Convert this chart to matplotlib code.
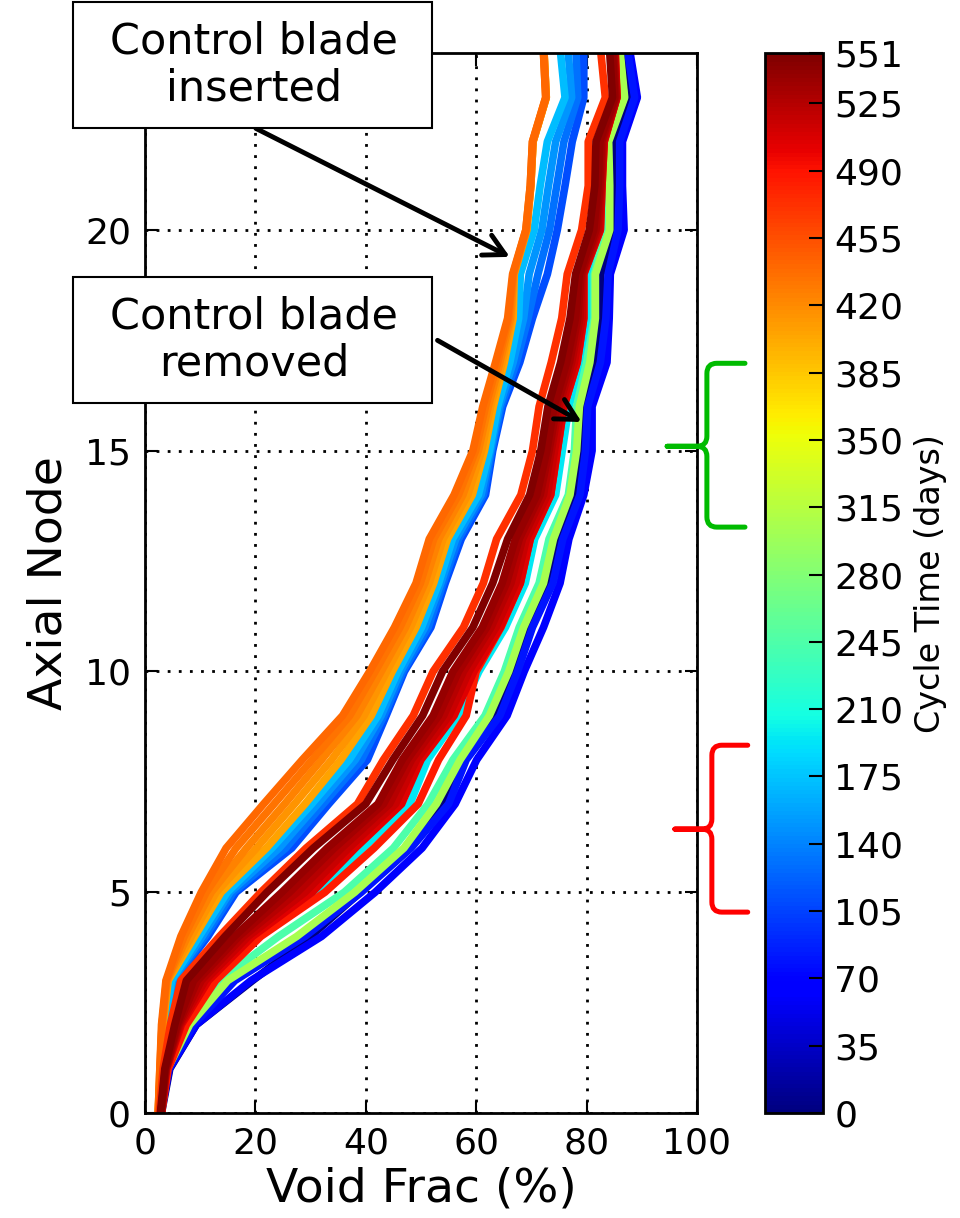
import numpy as np
import matplotlib
matplotlib.use('Agg')
import matplotlib.pyplot as plt
from matplotlib import cm, colors
from matplotlib.path import Path
from matplotlib.patches import PathPatch, Rectangle

# axial nodes 0..24
nodes = np.arange(25)

# void fraction profiles (%) per cycle time (days), node 0 -> 24
void_t000 = [3.0, 4.5, 9.3, 19.5, 30.0, 39.0, 48.0, 54.0, 57.8, 63.5, 66.8, 69.5, 73.3, 75.0, 77.8, 79.2, 79.6, 81.6, 82.5, 82.6, 85.0, 85.2, 85.0, 87.7, 86.8]
void_t062 = [2.9, 4.4, 9.3, 19.2, 32.0, 41.7, 50.2, 56.2, 60.1, 65.6, 68.7, 72.2, 75.2, 76.8, 79.5, 81.0, 81.0, 83.7, 84.1, 84.3, 86.8, 86.5, 86.5, 89.2, 87.9]
void_t080 = [2.8, 4.2, 8.8, 16.3, 29.0, 39.2, 48.2, 55.0, 58.2, 64.3, 67.5, 70.2, 73.9, 75.7, 78.8, 79.8, 80.2, 82.5, 83.5, 83.9, 85.7, 86.0, 86.0, 88.7, 87.5]
void_t110 = [2.7, 3.3, 3.9, 5.4, 11.4, 16.5, 26.6, 33.3, 40.3, 43.7, 47.0, 51.8, 54.4, 57.3, 61.7, 63.0, 64.8, 67.9, 70.2, 72.9, 74.7, 76.1, 77.4, 79.5, 79.5]
void_t130 = [2.6, 3.2, 3.8, 5.2, 10.9, 16.0, 25.5, 32.3, 39.2, 43.3, 46.7, 51.3, 54.0, 56.8, 61.3, 62.8, 64.5, 67.3, 69.4, 71.2, 73.3, 74.6, 75.9, 78.4, 78.1]
void_t150 = [2.6, 3.1, 3.7, 5.0, 10.4, 15.4, 24.3, 31.3, 38.1, 42.8, 46.3, 50.7, 53.6, 56.3, 60.9, 62.6, 64.2, 66.7, 68.6, 69.6, 71.9, 73.1, 74.4, 77.3, 76.7]
void_t172 = [2.5, 3.0, 3.6, 4.8, 9.8, 14.9, 23.0, 30.2, 37.0, 42.2, 45.8, 50.1, 53.2, 55.7, 60.4, 62.4, 63.9, 66.1, 67.7, 68.0, 70.5, 71.6, 72.9, 76.1, 75.3]
void_t195 = [3.0, 4.0, 7.2, 12.4, 20.2, 31.2, 39.5, 48.0, 51.2, 56.8, 60.5, 65.3, 68.9, 70.6, 74.4, 75.6, 76.8, 79.2, 80.3, 80.4, 83.2, 83.5, 83.9, 85.9, 85.5]
void_t245 = [2.7, 3.9, 7.5, 13.5, 24.2, 36.1, 45.0, 51.3, 55.8, 61.6, 65.1, 67.8, 71.4, 73.2, 76.7, 77.8, 78.2, 80.0, 81.4, 81.4, 83.4, 84.0, 83.8, 86.8, 86.0]
void_t305 = [2.8, 4.1, 8.1, 15.0, 27.5, 38.0, 46.9, 52.8, 57.1, 62.4, 65.9, 68.6, 72.2, 74.0, 77.0, 78.2, 78.7, 80.6, 81.6, 81.6, 84.2, 84.2, 84.0, 86.9, 86.1]
void_t405 = [2.5, 2.9, 3.3, 4.2, 9.0, 13.8, 22.0, 29.0, 35.5, 41.0, 44.8, 49.1, 52.3, 54.8, 59.3, 61.5, 63.1, 65.1, 66.7, 66.9, 69.2, 69.9, 70.3, 72.7, 72.3]
void_t415 = [2.5, 2.8, 3.2, 4.1, 8.4, 12.9, 20.2, 27.1, 33.8, 39.7, 43.8, 48.1, 51.5, 54.0, 58.5, 61.0, 62.6, 64.7, 66.4, 66.8, 69.1, 69.9, 70.3, 72.7, 72.3]
void_t425 = [2.4, 2.8, 3.1, 4.0, 7.7, 12.0, 18.4, 25.3, 32.0, 38.4, 42.8, 47.2, 50.7, 53.2, 57.6, 60.4, 62.2, 64.3, 66.2, 66.8, 69.1, 69.9, 70.3, 72.7, 72.3]
void_t433 = [2.4, 2.7, 3.1, 3.9, 7.1, 11.1, 16.5, 23.4, 30.3, 37.1, 41.7, 46.2, 49.9, 52.3, 56.8, 59.9, 61.7, 63.9, 65.9, 66.7, 69.0, 69.8, 70.2, 72.6, 72.2]
void_t441 = [2.4, 2.7, 3.0, 3.8, 6.5, 10.2, 14.7, 21.5, 28.5, 35.8, 40.7, 45.2, 49.1, 51.5, 56.0, 59.4, 61.2, 63.5, 65.7, 66.6, 69.0, 69.8, 70.2, 72.6, 72.2]
void_t472 = [2.6, 3.3, 4.6, 6.5, 13.5, 21.0, 29.2, 38.5, 43.2, 48.6, 52.2, 57.7, 61.3, 63.7, 68.1, 70.2, 71.4, 73.6, 75.5, 76.5, 79.1, 80.3, 80.3, 83.4, 82.6]
void_t485 = [3.0, 4.2, 7.5, 12.8, 21.0, 32.6, 41.5, 49.5, 53.2, 58.2, 60.0, 64.5, 68.0, 69.8, 73.5, 74.7, 75.9, 78.3, 79.5, 79.5, 82.5, 82.8, 83.2, 85.5, 85.2]
void_t505 = [3.0, 3.9, 6.6, 11.5, 19.5, 30.3, 38.1, 46.5, 50.0, 56.0, 59.6, 64.4, 68.0, 69.8, 73.5, 74.7, 75.9, 78.3, 79.5, 79.5, 82.5, 82.8, 83.2, 85.5, 85.2]
void_t515 = [3.0, 3.9, 6.4, 10.9, 18.7, 29.0, 36.9, 45.4, 49.2, 55.1, 58.7, 63.6, 67.2, 69.1, 72.9, 74.2, 75.5, 77.8, 79.2, 79.4, 82.3, 82.7, 83.1, 85.5, 85.1]
void_t525 = [2.9, 3.8, 6.2, 10.2, 17.8, 27.6, 35.6, 44.3, 48.3, 54.1, 57.7, 62.7, 66.3, 68.4, 72.2, 73.6, 75.0, 77.3, 78.8, 79.2, 82.0, 82.6, 82.9, 85.4, 85.0]
void_t532 = [2.9, 3.8, 6.0, 9.5, 17.0, 26.2, 34.3, 43.2, 47.5, 53.2, 56.8, 61.9, 65.5, 67.8, 71.6, 73.2, 74.6, 76.9, 78.4, 79.0, 81.7, 82.4, 82.7, 85.3, 84.9]
void_t540 = [2.9, 3.7, 5.8, 8.8, 16.2, 24.8, 33.0, 42.2, 46.6, 52.2, 55.8, 61.1, 64.7, 67.1, 71.0, 72.8, 74.1, 76.4, 78.0, 78.7, 81.3, 82.1, 82.4, 85.1, 84.7]
void_t551 = [2.8, 3.6, 5.4, 7.5, 14.5, 22.1, 30.5, 40.0, 44.9, 50.3, 53.9, 59.4, 63.0, 65.7, 69.7, 71.7, 73.0, 75.3, 77.0, 78.0, 80.5, 81.5, 81.7, 84.7, 84.2]

profiles = [
    (0, void_t000), (62, void_t062), (80, void_t080),
    (110, void_t110), (130, void_t130), (150, void_t150), (172, void_t172),
    (195, void_t195), (245, void_t245), (305, void_t305),
    (405, void_t405), (415, void_t415), (425, void_t425), (433, void_t433), (441, void_t441),
    (472, void_t472), (485, void_t485), (505, void_t505), (515, void_t515),
    (525, void_t525), (532, void_t532), (540, void_t540), (551, void_t551),
]

t_max = 551
cbar_ticks = list(range(0, 526, 35)) + [551]

fig = plt.figure(figsize=(9.6, 12.18), dpi=100)
ax = fig.add_axes([0.151, 0.0862, 0.575, 0.870])
cax = fig.add_axes([0.797, 0.0862, 0.0604, 0.870])

cmap = plt.get_cmap('jet')
norm = colors.Normalize(vmin=0, vmax=t_max)

for t, v in sorted(profiles, key=lambda p: p[0]):
    ax.plot(v, nodes, color=cmap(norm(t)), lw=5.5)

ax.set_xlim(0, 100)
ax.set_ylim(0, 24)
ax.set_xticks(range(0, 101, 20))
ax.set_yticks([0, 5, 10, 15, 20])
ax.grid(True, color='k', linestyle=(0, (1, 3)), lw=2)
ax.tick_params(direction='in', length=9, width=1.5, top=True, right=True,
               labelsize=26, pad=10)
for s in ax.spines.values():
    s.set_linewidth(2)
ax.set_xlabel('Void Frac (%)', fontsize=34, labelpad=4)
ax.set_ylabel('Axial Node', fontsize=34, labelpad=10)

sm = cm.ScalarMappable(norm=norm, cmap=cmap)
cb = fig.colorbar(sm, cax=cax, ticks=cbar_ticks)
cb.ax.tick_params(direction='in', length=10, width=1.5, labelsize=26, pad=8)
cb.outline.set_linewidth(2)
cb.set_label('Cycle Time (days)', fontsize=24, labelpad=8)

# text boxes (figure coords)
W, H = 960.0, 1218.0
for ytop, txt in [(2, 'Control blade\ninserted'), (277, 'Control blade\nremoved')]:
    rect = Rectangle((73 / W, 1 - (ytop + 126) / H), 359 / W, 126 / H,
                     transform=fig.transFigure, fc='white', ec='k', lw=1.5, zorder=2)
    fig.add_artist(rect)
    fig.text(254 / W, 1 - (ytop + 63) / H, txt, ha='center', va='center',
             fontsize=31, linespacing=1.15, zorder=3)

arrow = dict(arrowstyle='->,head_length=1.5,head_width=0.8', lw=3.5, color='k',
             shrinkA=0, shrinkB=0)
ax.annotate('', xy=(66.1, 19.39), xytext=(20.1, 22.3), arrowprops=arrow,
            annotation_clip=False)
ax.annotate('', xy=(79.1, 15.65), xytext=(53.0, 17.5), arrowprops=arrow,
            annotation_clip=False)


def brace(x_tip, x_stem, x_end, y_bot, y_mid, y_top, color):
    rx, ry = 1.8, 0.23
    verts = [
        (x_end, y_top), (x_stem + rx, y_top),
        (x_stem, y_top), (x_stem, y_top - ry),
        (x_stem, y_mid + ry),
        (x_stem, y_mid), (x_stem - rx, y_mid),
        (x_tip, y_mid),
        (x_tip, y_mid), (x_stem - rx, y_mid),
        (x_stem, y_mid), (x_stem, y_mid - ry),
        (x_stem, y_bot + ry),
        (x_stem, y_bot), (x_stem + rx, y_bot),
        (x_end, y_bot),
    ]
    codes = [Path.MOVETO, Path.LINETO,
             Path.CURVE3, Path.CURVE3,
             Path.LINETO,
             Path.CURVE3, Path.CURVE3,
             Path.LINETO,
             Path.MOVETO, Path.LINETO,
             Path.CURVE3, Path.CURVE3,
             Path.LINETO,
             Path.CURVE3, Path.CURVE3,
             Path.LINETO]
    p = PathPatch(Path(verts, codes), fill=False, ec=color, lw=3.6,
                  capstyle='round', joinstyle='round', clip_on=False, zorder=5)
    ax.add_patch(p)


brace(94.6, 101.8, 108.7, 13.27, 15.1, 16.98, '#00bb00')
brace(96.0, 102.7, 109.2, 4.55, 6.43, 8.33, '#ff0000')

fig.savefig('out.png', dpi=100)
